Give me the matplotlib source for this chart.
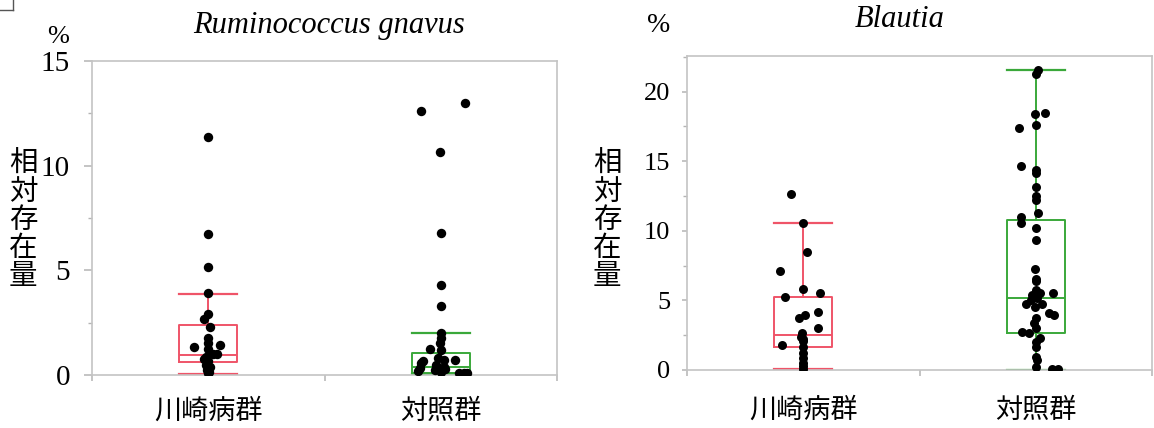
import matplotlib
matplotlib.use("Agg")
import matplotlib.pyplot as plt
from matplotlib.lines import Line2D

plt.rcParams['font.family'] = ['Liberation Serif', 'Noto Sans CJK JP']

# ---- data ------------------------------------------------------------------
groups = ["川崎病群", "対照群"]
ylabel_chars = "相対存在量"

# Ruminococcus gnavus (%)
rg_kd = [11.37, 6.75, 5.16, 3.9, 2.93, 2.68, 2.28, 1.77, 1.35, 1.43, 1.51, 1.23,
         0.99, 1.02, 0.88, 0.75, 0.68, 0.48, 0.37, 0.24, 0.16, 0.08]
rg_kd_jit = [0.0, -0.003, -0.003, -0.002, -0.003, -0.02, 0.006, -0.002, -0.062, 0.05, 0.0, -0.003,
             0.036, 0.02, -0.008, -0.02, 0.0, -0.008, 0.008, -0.006, 0.005, 0.0]
rg_ct = [13.01, 12.61, 10.64, 6.78, 4.3, 3.31, 1.99, 1.75, 1.51, 1.23, 1.19, 0.8,
         0.68, 0.72, 0.7, 0.59, 0.48, 0.4, 0.33, 0.3, 0.21, 0.24, 0.16, 0.11, 0.08, 0.08]
rg_ct_jit = [0.105, -0.084, -0.002, 0.0, 0.003, 0.0, 0.0, 0.0, -0.002, -0.047, 0.0, -0.01,
             -0.077, 0.016, 0.06, -0.085, -0.02, 0.016, -0.09, 0.018, -0.1, -0.025, 0.0, 0.077, 0.1, 0.115]
rg_box = [dict(whislo=0.05, q1=0.64, med=0.97, q3=2.39, whishi=3.87),
          dict(whislo=0.03, q1=0.08, med=0.37, q3=1.07, whishi=1.99)]

# Blautia (%)
bl_kd = [12.63, 10.57, 8.45, 7.1, 5.79, 5.5, 5.22, 4.19, 3.95, 3.71, 3.04, 2.68,
         2.4, 2.2, 2.1, 1.79, 1.65, 1.2, 0.85, 0.5, 0.26, 0.07]
bl_kd_jit = [-0.053, 0.0, 0.014, -0.098, 0.0, 0.072, -0.079, 0.062, 0.007, -0.02, 0.062, -0.005,
             -0.01, 0.0, 0.0, -0.093, 0.0, 0.0, 0.0, 0.0, 0.0, 0.0]
bl_ct = [21.58, 21.24, 18.47, 18.37, 17.58, 17.39, 14.67, 14.35, 14.16, 13.16, 12.49, 12.2,
         11.24, 11.0, 10.57, 10.17, 9.33, 7.22, 6.56, 6.36, 5.74, 5.55, 5.5, 5.38, 5.19,
         5.02, 4.74, 4.71, 4.55, 4.07, 3.92, 3.71, 3.35, 2.99, 2.75, 2.63, 2.32, 2.03,
         1.67, 0.96, 0.72, 0.24, 0.07, 0.07]
bl_ct_jit = [0.011, 0.0, 0.038, -0.004, 0.0, -0.073, -0.065, 0.0, 0.0, 0.0, 0.0, 0.0,
             0.008, -0.065, -0.062, 0.0, 0.0, -0.004, 0.0, 0.0, 0.0, 0.073, 0.02, -0.014, 0.005,
             -0.022, 0.025, -0.044, -0.004, 0.056, 0.079, 0.0, -0.008, 0.0, -0.06, -0.03, 0.017, 0.0,
             0.0, 0.0, 0.005, 0.0, 0.071, 0.094]
bl_box = [dict(whislo=0.07, q1=1.67, med=2.51, q3=5.22, whishi=10.53),
          dict(whislo=0.0, q1=2.63, med=5.15, q3=10.77, whishi=21.54)]

box_colors = ["#ef5468", "#3aa83a"]
spine_gray = "#c4c4c4"
W, H = 1154, 428


def draw_panel(ax, series, jitters, stats, ylim, yticks, tick_size, major_len, ypad, xpad, dot_s):
    positions = [0.5, 1.5]
    for pos, st, col in zip(positions, stats, box_colors):
        ax.bxp([st], positions=[pos], widths=0.25, capwidths=0.25, showfliers=False,
               boxprops=dict(color=col, linewidth=1.4),
               whiskerprops=dict(color=col, linewidth=1.4),
               capprops=dict(color=col, linewidth=1.6),
               medianprops=dict(color=col, linewidth=1.4),
               manage_ticks=False)
    for pos, vals, jit in zip(positions, series, jitters):
        ax.scatter([pos + j for j in jit], vals, s=dot_s, color="black", zorder=3,
                   linewidths=0)
    ax.set_xlim(0, 2)
    ax.set_ylim(*ylim)
    ax.set_yticks(yticks)
    minors = [t + 2.5 for t in yticks if t + 2.5 < ylim[1]]
    ax.set_yticks(minors, minor=True)
    ax.set_xticks([0, 1, 2])
    ax.set_xticklabels([])
    ax.set_xticks(positions, minor=True)
    ax.set_xticklabels(groups, minor=True, fontsize=19.5, family=['Noto Sans CJK JP'])
    for s in ax.spines.values():
        s.set_color(spine_gray)
        s.set_linewidth(1.2)
    ax.tick_params(axis="y", which="major", length=major_len, width=1.1, color="#b4b4b4",
                   labelsize=tick_size, pad=ypad)
    ax.tick_params(axis="y", which="minor", length=3.2, width=1.0, color="#b4b4b4")
    ax.tick_params(axis="x", which="major", length=4.5, width=1.1, color="#b4b4b4")
    ax.tick_params(axis="x", which="minor", length=0, pad=xpad)


fig = plt.figure(figsize=(W / 100, H / 100), dpi=100)

ax1 = fig.add_axes([92 / W, (H - 375) / H, (557 - 92) / W, (375 - 61) / H])
draw_panel(ax1, [rg_kd, rg_ct], [rg_kd_jit, rg_ct_jit], rg_box, (0, 15), [0, 5, 10, 15],
           21, 5.8, 10, 16.5, 46)

ax2 = fig.add_axes([687 / W, (H - 370) / H, (1152 - 687) / W, (370 - 56) / H])
draw_panel(ax2, [bl_kd, bl_ct], [bl_kd_jit, bl_ct_jit], bl_box, (0, 22.55), [0, 5, 10, 15, 20],
           19, 3.6, 8.6, 19.5, 42)

# titles
fig.text(329 / W, 1 - 33 / H, "Ruminococcus gnavus", style="italic", fontsize=22,
         ha="center", va="baseline")
fig.text(900 / W, 1 - 27 / H, "Blautia", style="italic", fontsize=22,
         ha="center", va="baseline")

# unit marks
fig.text(58 / W, 1 - 37 / H, "%", fontsize=19, ha="center", va="center")
fig.text(659 / W, 1 - 26 / H, "%", fontsize=20, ha="center", va="center")

# stacked vertical axis labels
for x_px in (23, 607):
    for i, ch in enumerate(ylabel_chars):
        fig.text(x_px / W, 1 - (164 + 28 * i) / H, ch, fontsize=20.5,
                 family=['Noto Sans CJK JP'], ha="center", va="center")

# small corner mark from the source crop
fig.add_artist(Line2D([0, 13 / W], [1 - 10 / H, 1 - 10 / H], color="#555555", lw=1))
fig.add_artist(Line2D([13 / W, 13 / W], [1, 1 - 10 / H], color="#555555", lw=1))

fig.savefig("out.png", dpi=100)
